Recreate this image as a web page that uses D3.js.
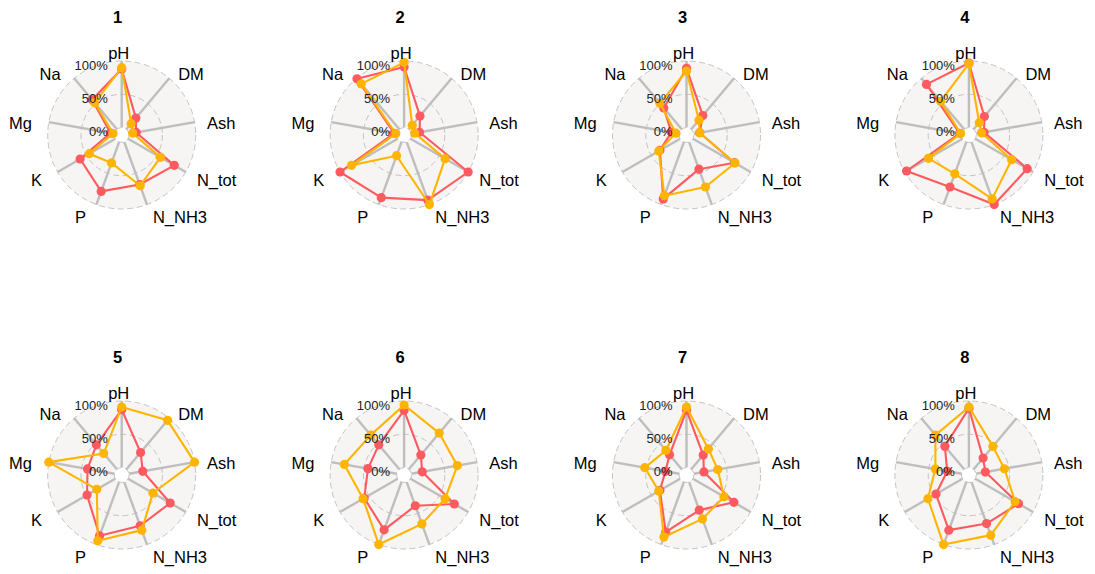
<!DOCTYPE html>
<html>
<head>
<meta charset="utf-8">
<script src="https://cdn.jsdelivr.net/npm/d3@7"></script>
<style>
  html, body { margin: 0; padding: 0; background: #ffffff; }
  svg { display: block; font-family: "Liberation Sans", Arial, sans-serif; }
</style>
</head>
<body>
<svg id="chart" width="1095" height="574"></svg>
<script>
// ---- data ----
const axesLabels = ["pH", "DM", "Ash", "N_tot", "N_NH3", "P", "K", "Mg", "Na"];
const panelTitles = ["1", "2", "3", "4", "5", "6", "7", "8"];
const gridValues = [0, 0.5, 1];
const gridLabels = ["0%", "50%", "100%"];

// red series (group 1), per panel, values in axis order
const redValues = [
  [0.88, 0.22, 0.11, 0.80, 0.68, 0.79, 0.61, 0.06, 0.58],
  [0.91, 0.26, 0.125, 1.00, 0.93, 0.89, 1.00, 0.04, 0.99],
  [0.89, 0.27, 0.09, 0.72, 0.435, 0.91, 0.35, 0.12, 0.42],
  [0.97, 0.25, 0.12, 0.90, 1.00, 0.72, 0.97, 0.03, 0.88],
  [0.87, 0.33, 0.21, 0.73, 0.70, 0.86, 0.49, 0.41, 0.48],
  [0.86, 0.28, 0.165, 0.76, 0.38, 0.765, 0.58, 0.44, 0.48],
  [0.86, 0.28, 0.155, 0.71, 0.45, 0.80, 0.35, 0.21, 0.285],
  [0.89, 0.22, 0.14, 0.75, 0.665, 0.77, 0.46, 0.22, 0.45]
];
// yellow series (group 2)
const yellowValues = [
  [0.90, 0.11, 0.055, 0.56, 0.70, 0.335, 0.45, 0.02, 0.52],
  [0.98, 0.08, 0.05, 0.60, 1.00, 0.22, 0.80, 0.015, 0.89],
  [0.85, 0.18, 0.09, 0.73, 0.72, 0.86, 0.37, 0.05, 0.51],
  [0.96, 0.13, 0.08, 0.63, 0.91, 0.51, 0.59, 0.015, 0.55],
  [0.91, 0.96, 1.00, 0.43, 0.77, 0.94, 0.32, 1.00, 0.31],
  [0.94, 0.71, 0.70, 0.60, 0.67, 1.00, 0.60, 0.80, 0.67],
  [0.91, 0.40, 0.365, 0.54, 0.59, 0.88, 0.37, 0.525, 0.37],
  [0.91, 0.45, 0.43, 0.69, 0.85, 1.00, 0.60, 0.40, 0.67]
];
const seriesColors = ["#FF5A5F", "#FFB400"];

// ---- layout ----
const svg = d3.select("#chart");
const R = 74;
const rScale = d3.scaleLinear().domain([-1 / 9, 1]).range([0, R]);
const aScale = d3.scaleLinear().domain([0, axesLabels.length]).range([0, 2 * Math.PI]);
const colX = d3.scalePoint().domain([0, 1, 2, 3]).range([121.7, 968.9]);
const rowY = d3.scalePoint().domain([0, 1]).range([135, 475]);
const labelR = 84;

const line = d3.lineRadial()
  .angle((d, i) => aScale(i))
  .radius(d => rScale(d))
  .curve(d3.curveLinearClosed);

panelTitles.forEach((title, p) => {
  const cx = colX(p % 4), cy = rowY(Math.floor(p / 4));
  const g = svg.append("g").attr("transform", `translate(${cx},${cy})`);

  // title
  g.append("text")
    .attr("x", -4).attr("y", -118)
    .attr("text-anchor", "middle").attr("dominant-baseline", "central")
    .attr("font-weight", "bold").attr("font-size", 16.5).attr("fill", "#000")
    .text(title);

  // background circle
  g.append("circle").attr("r", rScale(1)).attr("fill", "#f6f5f3");

  // axis lines
  axesLabels.forEach((a, i) => {
    const ang = aScale(i);
    g.append("line")
      .attr("x1", rScale(0) * Math.sin(ang)).attr("y1", -rScale(0) * Math.cos(ang))
      .attr("x2", rScale(1) * Math.sin(ang)).attr("y2", -rScale(1) * Math.cos(ang))
      .attr("stroke", "#bebebe").attr("stroke-width", 2.4);
  });

  // center white
  g.append("circle").attr("r", rScale(0)).attr("fill", "#ffffff");

  // dashed grid circles
  gridValues.forEach(v => {
    g.append("circle").attr("r", rScale(v))
      .attr("fill", "none").attr("stroke", "#bdbdbd")
      .attr("stroke-width", 0.9).attr("stroke-dasharray", "6,3.5");
  });

  // series
  [redValues[p], yellowValues[p]].forEach((vals, s) => {
    g.append("path").attr("d", line(vals))
      .attr("fill", "none").attr("stroke", seriesColors[s])
      .attr("stroke-width", 2.1).attr("stroke-linejoin", "round");
    g.selectAll(null).data(vals).enter().append("circle")
      .attr("cx", (d, i) => rScale(d) * Math.sin(aScale(i)))
      .attr("cy", (d, i) => -rScale(d) * Math.cos(aScale(i)))
      .attr("r", 4.6).attr("fill", seriesColors[s]);
  });

  // grid labels
  gridValues.forEach((v, k) => {
    g.append("text")
      .attr("x", -14).attr("y", -rScale(v) + 4)
      .attr("text-anchor", "end").attr("dominant-baseline", "central")
      .attr("font-size", 13).attr("fill", "#222")
      .text(gridLabels[k]);
  });

  // axis labels
  axesLabels.forEach((a, i) => {
    const ang = aScale(i);
    const x = labelR * Math.sin(ang), y = -labelR * Math.cos(ang);
    const centre = Math.abs(x) < 1;
    const anchor = centre ? "middle" : (x > 0 ? "start" : "end");
    const dx = centre ? -3 : (x > 0 ? 2.5 : -7);
    g.append("text")
      .attr("x", (centre ? 0 : x) + dx).attr("y", y + (centre ? 1.5 : 3))
      .attr("text-anchor", anchor).attr("dominant-baseline", "central")
      .attr("font-size", 16.5).attr("fill", "#000")
      .text(a);
  });
});
</script>
</body>
</html>
